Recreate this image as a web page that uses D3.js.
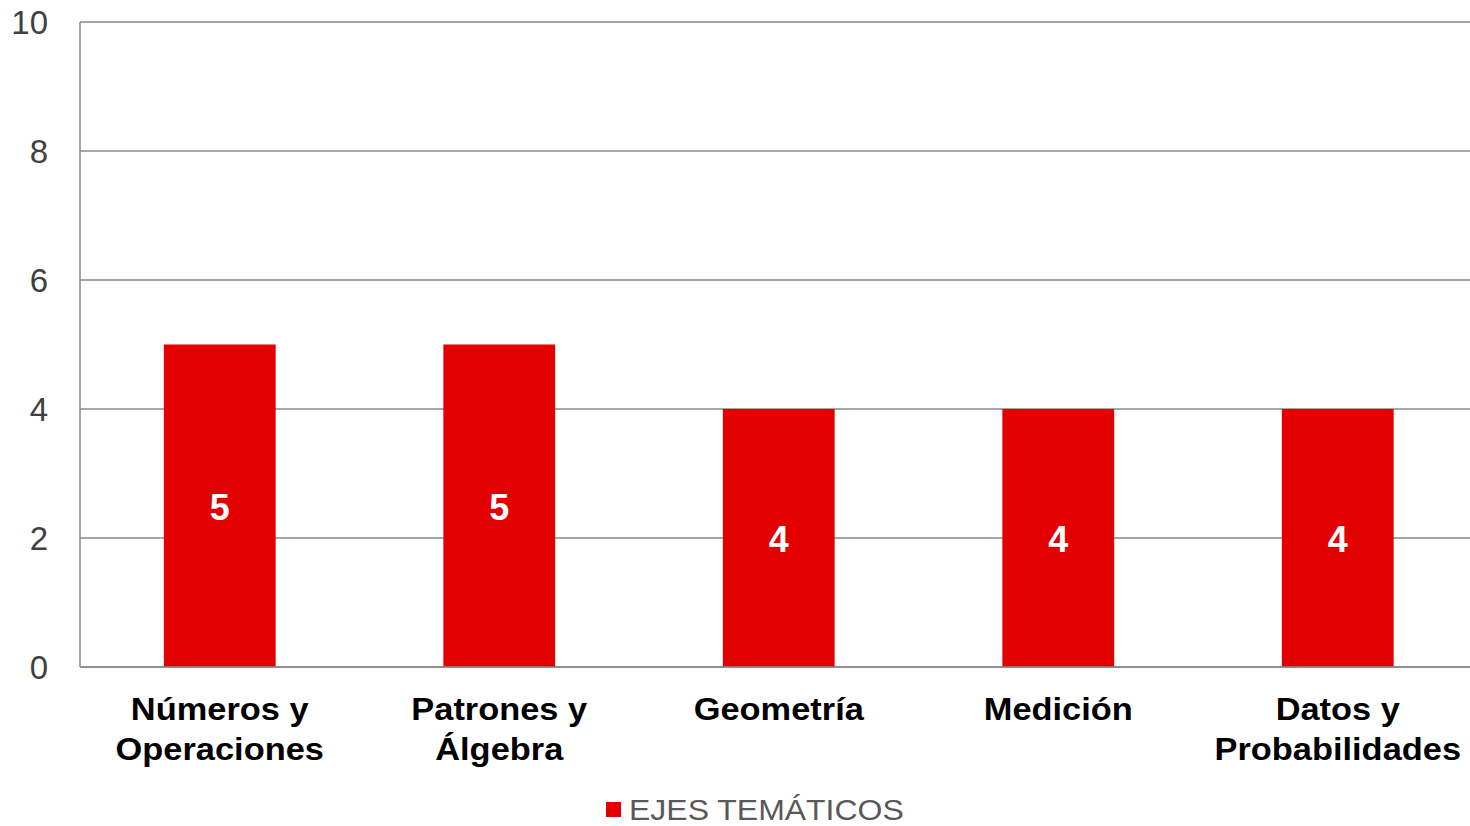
<!DOCTYPE html>
<html><head><meta charset="utf-8">
<script src="https://cdn.jsdelivr.net/npm/d3@7"></script>
<style>body{margin:0;background:#fff}svg{display:block}</style>
</head><body>
<svg id="c" width="1470" height="826"></svg>
<script>
const categories = [["Números y","Operaciones"],["Patrones y","Álgebra"],["Geometría"],["Medición"],["Datos y","Probabilidades"]];
const values = [5,5,4,4,4];
const yTicks = [0,2,4,6,8,10];
const seriesName = "EJES TEMÁTICOS";

(function(){
const svg = d3.select("#c");
const mLeft = 80, mRight = 1477.5, mTop = 22, mBottom = 667;
const x = d3.scaleBand().domain(d3.range(values.length)).range([mLeft,mRight]).paddingInner(0.6).paddingOuter(0.3);
const y = d3.scaleLinear().domain([0,10]).range([mBottom,mTop]);
const font = "'Liberation Sans', Arial, sans-serif";
const grid = "#898989";

svg.append("g").selectAll("line").data(yTicks).join("line")
  .attr("x1",mLeft).attr("x2",mRight).attr("y1",d=>y(d)).attr("y2",d=>y(d))
  .attr("stroke",grid).attr("stroke-width",1.5);
svg.append("line").attr("x1",mLeft).attr("x2",mLeft).attr("y1",mTop).attr("y2",mBottom)
  .attr("stroke",grid).attr("stroke-width",1.5);
svg.append("g").selectAll("text").data(yTicks).join("text")
  .attr("x",48).attr("y",d=>y(d)).attr("dy","0.35em").attr("text-anchor","end")
  .attr("font-family",font).attr("font-size",33).attr("fill","#404040").text(d=>d);

svg.append("g").selectAll("rect").data(values).join("rect")
  .attr("x",(d,i)=>x(i)).attr("width",x.bandwidth())
  .attr("y",d=>y(d)).attr("height",d=>y(0)-y(d)).attr("fill","#E30000");
svg.append("line").attr("x1",mLeft).attr("x2",mRight).attr("y1",y(0)).attr("y2",y(0))
  .attr("stroke",grid).attr("stroke-width",1.5);

svg.append("g").selectAll("text").data(values).join("text")
  .attr("x",(d,i)=>x(i)+x.bandwidth()/2).attr("y",d=>(y(d)+y(0))/2).attr("dy","0.4em")
  .attr("text-anchor","middle").attr("font-family",font).attr("font-weight","bold")
  .attr("font-size",36).attr("fill","#fff").text(d=>d);

const cl = svg.append("g").selectAll("text").data(categories).join("text")
  .attr("transform",(d,i)=>`translate(${x(i)+x.bandwidth()/2},720) scale(1.11,1)`)
  .attr("text-anchor","middle").attr("font-family",font).attr("font-weight","bold")
  .attr("font-size",31).attr("fill","#000");
cl.selectAll("tspan").data(d=>d).join("tspan")
  .attr("x",0).attr("dy",(d,i)=>i===0?0:40).text(d=>d);

const lg = svg.append("g");
lg.append("rect").attr("x",606).attr("y",802).attr("width",15).attr("height",15).attr("fill","#E30000");
lg.append("text").attr("transform","translate(629,820) scale(1.066,1)").attr("font-family",font).attr("font-size",30)
  .attr("fill","#595959").text(seriesName);
})();
</script>
</body></html>
